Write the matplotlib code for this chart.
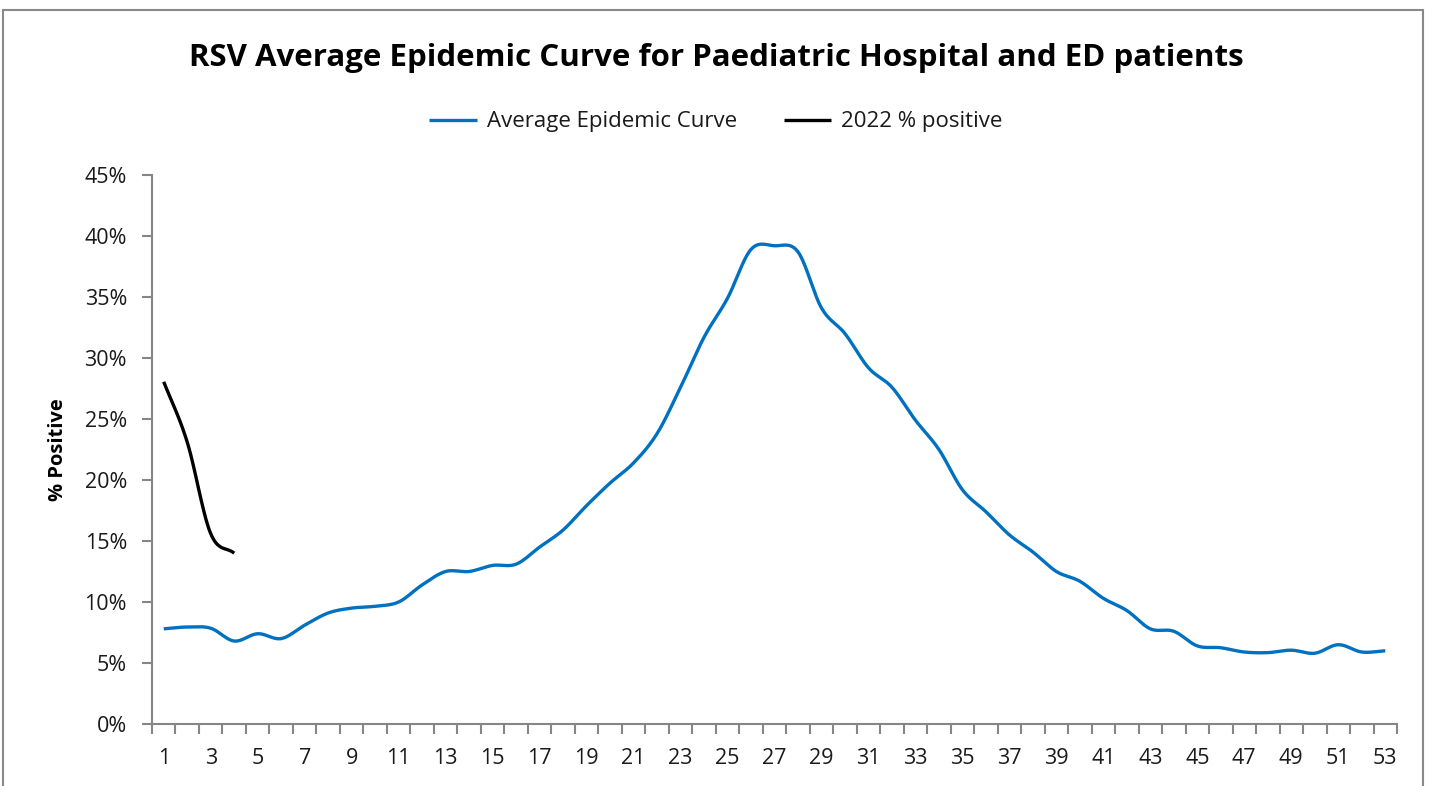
import numpy as np
import matplotlib as mpl
mpl.use('Agg')
import matplotlib.pyplot as plt
from matplotlib.patches import Rectangle
from matplotlib.ticker import FuncFormatter

# weeks and % positive values
weeks = list(range(1, 54))
avg_curve = [7.8, 7.95, 7.85, 6.8, 7.4, 7.0, 8.1, 9.1, 9.5, 9.65,
             10.0, 11.4, 12.5, 12.5, 13.0, 13.1, 14.5, 15.9, 17.9, 19.75,
             21.4, 23.8, 27.6, 31.7, 34.9, 38.9, 39.2, 38.7, 34.1, 32.0,
             29.2, 27.6, 24.9, 22.5, 19.2, 17.4, 15.5, 14.1, 12.5, 11.7,
             10.3, 9.3, 7.8, 7.6, 6.4, 6.25, 5.9, 5.85, 6.05, 5.8,
             6.5, 5.9, 6.0]
weeks_2022 = [1, 2, 3, 4]
pos_2022 = [28.05, 23.1, 15.6, 14.0]


def smooth(x, y, n=20):
    # catmull-rom style smoothing, like a smoothed office chart line
    x = np.asarray(x, float)
    y = np.asarray(y, float)
    px = np.concatenate([[2 * x[0] - x[1]], x, [2 * x[-1] - x[-2]]])
    py = np.concatenate([[2 * y[0] - y[1]], y, [2 * y[-1] - y[-2]]])
    xs, ys = [], []
    t = np.linspace(0, 1, n, endpoint=False)
    for i in range(1, len(px) - 2):
        p0, p1, p2, p3 = py[i - 1], py[i], py[i + 1], py[i + 2]
        q0, q1, q2, q3 = px[i - 1], px[i], px[i + 1], px[i + 2]
        for arr, a0, a1, a2, a3 in ((ys, p0, p1, p2, p3), (xs, q0, q1, q2, q3)):
            arr.extend(0.5 * ((2 * a1) + (-a0 + a2) * t +
                              (2 * a0 - 5 * a1 + 4 * a2 - a3) * t ** 2 +
                              (-a0 + 3 * a1 - 3 * a2 + a3) * t ** 3))
    xs.append(x[-1])
    ys.append(y[-1])
    return np.array(xs), np.array(ys)


plt.rcParams['font.family'] = ['Open Sans', 'DejaVu Sans']

fig = plt.figure(figsize=(14.32, 7.86), dpi=100)
ax = fig.add_axes([152 / 1432, 1 - 724 / 786, (1397 - 152) / 1432, (724 - 175) / 786])

sx, sy = smooth(weeks, avg_curve)
ax.plot(sx, sy / 100.0, color='#0070C0', lw=2.4, label='Average Epidemic Curve',
        solid_capstyle='butt')
bx, by = smooth(weeks_2022, pos_2022)
ax.plot(bx, by / 100.0, color='black', lw=2.4, label='2022 % positive',
        solid_capstyle='butt')

ax.set_xlim(0.5, 53.5)
ax.set_ylim(0, 0.45)
ax.set_yticks(np.arange(0, 0.451, 0.05))
ax.yaxis.set_major_formatter(FuncFormatter(lambda v, p: '%d%%' % round(v * 100)))
ax.set_xticks(weeks[::2])
ax.set_xticks(np.arange(0.5, 54, 1), minor=True)
ax.tick_params(axis='x', which='major', length=0, pad=17, labelsize=15.5, labelcolor='#1a1a1a')
ax.tick_params(axis='x', which='minor', length=7, width=1.5, color='#868686')
ax.tick_params(axis='y', length=7, width=1.5, color='#868686', labelsize=15.5, pad=11,
               labelcolor='#1a1a1a')

for s in ['top', 'right']:
    ax.spines[s].set_visible(False)
for s in ['left', 'bottom']:
    ax.spines[s].set_color('#868686')
    ax.spines[s].set_linewidth(1.5)

fig.text(58 / 1432, 1 - 450 / 786, '% Positive', rotation=90, ha='center', va='center',
         fontsize=14.5, fontweight='bold')

fig.text(0.5, 1 - 58 / 786, 'RSV Average Epidemic Curve for Paediatric Hospital and ED patients',
         ha='center', va='center', fontsize=22.5, fontweight='bold')

leg = ax.legend(loc='center', bbox_to_anchor=(0.5, (786 - 122) / 786), bbox_transform=fig.transFigure,
                ncol=2, frameon=False, fontsize=16, handlelength=2.15, columnspacing=2.1,
                handletextpad=0.45)
for t in leg.get_texts():
    t.set_color('#1a1a1a')

fig.patches.append(Rectangle((3 / 1432, -0.05), 1420 / 1432, 1.05 - 10 / 786,
                             transform=fig.transFigure, fill=False,
                             edgecolor='#898989', lw=1.5))

fig.savefig('out.png', dpi=100)
